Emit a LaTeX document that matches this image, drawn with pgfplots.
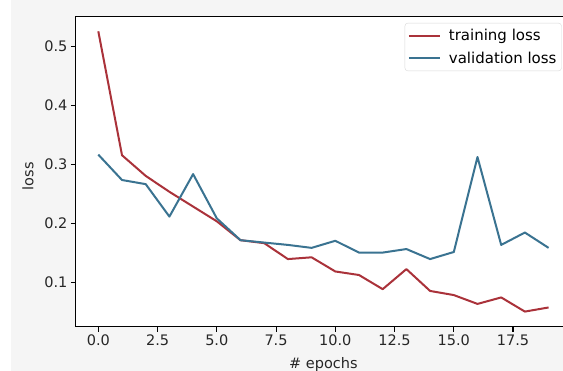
\documentclass[border=0pt]{standalone}
\usepackage{pgfplots}
\pgfplotsset{compat=1.18}
\usepackage{fontspec}
\setmainfont{DejaVu Sans}
\definecolor{trainred}{RGB}{170,50,58}
\definecolor{valblue}{RGB}{58,115,145}
\definecolor{figbg}{RGB}{245,245,245}
\pgfplotstableread{
x train val
0 0.526 0.317
1 0.316 0.274
2 0.281 0.267
3 0.254 0.212
4 0.229 0.284
5 0.204 0.209
6 0.172 0.172
7 0.167 0.168
8 0.140 0.164
9 0.143 0.159
10 0.119 0.171
11 0.113 0.151
12 0.089 0.151
13 0.123 0.157
14 0.086 0.140
15 0.079 0.152
16 0.064 0.313
17 0.075 0.164
18 0.051 0.185
19 0.058 0.159
}\losstable
\begin{document}
\begin{tikzpicture}[x=1pt,y=1pt]
\clip (0,0) rectangle (563,371);
\fill[figbg] (0,0) rectangle (563,371);
\fill[white] (0,0) rectangle (11,371);
\begin{axis}[
  at={(75.8pt,44.3pt)}, anchor=south west,
  scale only axis, width=495.3pt, height=310pt,
  xmin=-0.95, xmax=19.95, ymin=0.0254, ymax=0.5508,
  axis background/.style={fill=white},
  axis line style={black, line width=1.1pt},
  tick align=outside, tick pos=left,
  major tick length=4.9pt,
  tick style={black, line width=1.1pt},
  xtick={0,2.5,5,7.5,10,12.5,15,17.5},
  xticklabels={0.0,2.5,5.0,7.5,10.0,12.5,15.0,17.5},
  ytick={0.1,0.2,0.3,0.4,0.5},
  yticklabels={0.1,0.2,0.3,0.4,0.5},
  ticklabel style={font=\fontsize{14.5}{17}\selectfont, text=black!85},
  xlabel={\# epochs}, ylabel={loss},
  label style={font=\fontsize{14.5}{17}\selectfont, text=black!85},
  xlabel style={at={(axis description cs:0.5,-0.135)}, anchor=base},
  ylabel style={at={(axis description cs:-0.0858,0.485)}, anchor=base},
  legend style={at={(axis description cs:0.981,0.980)}, anchor=north east,
    draw=black!15, rounded corners=3pt, fill=white, fill opacity=0.8, text opacity=1,
    font=\fontsize{15}{17}\selectfont, inner xsep=3pt, inner ysep=4pt, row sep=6pt},
  legend cell align=left,
  legend image code/.code={\draw[#1] (0pt,0pt) -- (31pt,0pt); \path (37pt,0pt);},
]
\addplot[trainred, line width=2pt, line join=round] table[x=x, y=train] {\losstable};
\addlegendentry{training loss}
\addplot[valblue, line width=2pt, line join=round] table[x=x, y=val] {\losstable};
\addlegendentry{validation loss}
\end{axis}
\end{tikzpicture}
\end{document}
